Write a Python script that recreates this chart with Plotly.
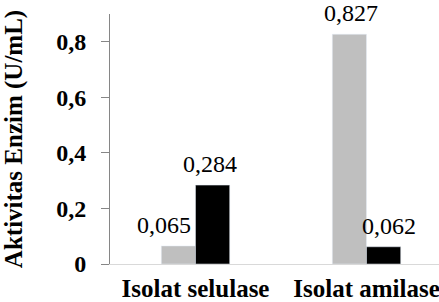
import plotly.graph_objects as go

categories = ["Isolat selulase", "Isolat amilase"]
amilase = [0.065, 0.827]
selulase = [0.284, 0.062]
labels_amilase = ["0,065", "0,827"]
labels_selulase = ["0,284", "0,062"]
y_ticks = [0, 0.2, 0.4, 0.6, 0.8]
y_tick_text = ["0", "0,2", "0,4", "0,6", "0,8"]

FONT = "'Times New Roman', 'Liberation Serif', Times, serif"

fig = go.Figure()
fig.add_trace(go.Bar(x=categories, y=amilase, name="Amilase", marker_color="#BFBFBF"))
fig.add_trace(go.Bar(x=categories, y=selulase, name="Selulase", marker_color="#000000"))

annotations = []
half = 17
for i, c in enumerate(categories):
    extra = -15 if i == 0 else 1
    annotations.append(dict(x=c, y=amilase[i], text=labels_amilase[i], showarrow=False,
                            xshift=-half + extra, yshift=21, yanchor="middle",
                            font=dict(family=FONT, size=24, color="black")))
    extra2 = 5 if i == 1 else -3
    annotations.append(dict(x=c, y=selulase[i], text=labels_selulase[i], showarrow=False,
                            xshift=half + extra2, yshift=21, yanchor="middle",
                            font=dict(family=FONT, size=24, color="black")))

fig.update_layout(
    width=439, height=302,
    margin=dict(l=110, r=0, t=14, b=38),
    paper_bgcolor="white", plot_bgcolor="white",
    barmode="group", bargap=0.6, bargroupgap=0,
    showlegend=False,
    font=dict(family=FONT, size=24, color="black"),
    annotations=annotations,
    xaxis=dict(
        range=[-0.5, 1.424],
        showline=True, linecolor="#D9D9D9", linewidth=1,
        ticks="outside", ticklen=2, tickcolor="rgba(0,0,0,0)",
        tickfont=dict(family=FONT, size=25, color="black", weight="bold"),
        showgrid=False, zeroline=False, automargin=False,
    ),
    yaxis=dict(
        range=[0, 0.9],
        tickvals=y_ticks, ticktext=y_tick_text,
        showline=True, linecolor="#868686", linewidth=1,
        ticks="outside", ticklen=8, tickcolor="#868686",
        ticklabelstandoff=10,
        tickfont=dict(family=FONT, size=24, color="black", weight="bold"),
        showgrid=False, zeroline=False, automargin=False,
        title=dict(text="Aktivitas Enzim (U/mL)", standoff=32,
                   font=dict(family=FONT, size=25, color="black", weight="bold")),
    ),
)

fig.write_html("out.html")
